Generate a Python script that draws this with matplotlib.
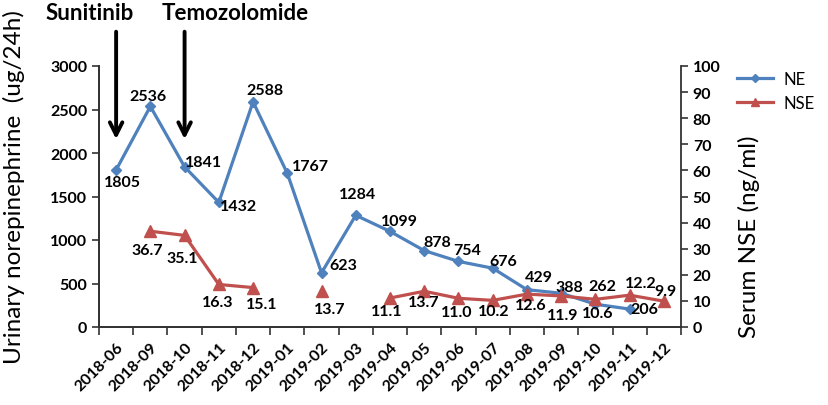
import numpy as np
import matplotlib
matplotlib.use("Agg")
import matplotlib.pyplot as plt

plt.rcParams['font.family'] = ['Lato', 'DejaVu Sans']

# Datos
meses = ['2018-06', '2018-09', '2018-10', '2018-11', '2018-12',
         '2019-01', '2019-02', '2019-03', '2019-04', '2019-05', '2019-06',
         '2019-07', '2019-08', '2019-09', '2019-10', '2019-11', '2019-12']
ne = [1805, 2536, 1841, 1432, 2588, 1767, 623, 1284, 1099, 878, 754,
      676, 429, 388, 262, 206, np.nan]
nse = [np.nan, 36.7, 35.1, 16.3, 15.1, np.nan, 13.7, np.nan, 11.1, 13.7,
       11.0, 10.2, 12.6, 11.9, 10.6, 12.2, 9.9]
ne_txt = ['1805', '2536', '1841', '1432', '2588', '1767', '623', '1284',
          '1099', '878', '754', '676', '429', '388', '262', '206', '']
nse_txt = ['', '36.7', '35.1', '16.3', '15.1', '', '13.7', '', '11.1',
           '13.7', '11.0', '10.2', '12.6', '11.9', '10.6', '12.2', '9.9']

# desplazamiento de etiquetas (pixeles: derecha, arriba)
ne_off = [(6, -12), (-2, 10), (19, 5), (20, -4), (12, 12), (23, 7),
          (22, 8), (2, 21), (9, 10), (13, 9), (9, 11), (11, 7),
          (12, 13), (8, 6), (7, 18), (15, 0), (0, 0)]
nse_off = [(0, 0), (-3, -19), (-2, -23), (-1, -18), (9, -16), (0, 0),
           (8, -18), (0, 0), (-3, -13), (-1, -11), (-2, -14), (1, -11),
           (4, -11), (2, -19), (2, -14), (11, 12), (2, 10)]

azul = '#4F81BD'
rojo = '#C0504D'
x = np.arange(len(meses))

fig = plt.figure(figsize=(8.29, 4.06), dpi=100)
ax = fig.add_axes([99 / 829, 1 - 328 / 406, 582 / 829, 261 / 406])
ax2 = ax.twinx()

l1, = ax.plot(x, ne, color=azul, lw=2.3, marker='D', ms=5.5, label='NE')
l2, = ax2.plot(x, nse, color=rojo, lw=2.3, marker='^', ms=8, label='NSE')

for i in range(len(x)):
    if ne_txt[i]:
        ax.annotate(ne_txt[i], (x[i], ne[i]), xytext=(ne_off[i][0] * 0.72, ne_off[i][1] * 0.72),
                    textcoords='offset points', ha='center', va='center',
                    fontsize=11.5, fontweight='bold')
    if nse_txt[i]:
        ax2.annotate(nse_txt[i], (x[i], nse[i]), xytext=(nse_off[i][0] * 0.72, nse_off[i][1] * 0.72),
                     textcoords='offset points', ha='center', va='center',
                     fontsize=11.5, fontweight='bold')

ax.set_xlim(-0.5, len(meses) - 0.5)
ax.set_ylim(0, 3000)
ax.set_yticks(range(0, 3001, 500))
ax2.set_ylim(0, 100)
ax2.set_yticks(range(0, 101, 10))

ax.set_xticks(x)
ax.set_xticklabels(meses, rotation=45, ha='right', rotation_mode='anchor',
                   fontsize=11.5, fontweight='bold')
ax.tick_params(axis='x', which='major', length=0, pad=9)
ax.set_xticks(np.arange(-0.5, len(meses)), minor=True)
ax.tick_params(axis='x', which='minor', length=6, width=1.2, color='#333333')

for a in (ax, ax2):
    a.spines['top'].set_visible(False)
    for s in a.spines.values():
        s.set_color('#333333')
        s.set_linewidth(1.3)
    a.tick_params(axis='y', length=5, width=1.2, color='#333333', labelsize=11.5)
    for t in a.get_yticklabels():
        t.set_fontweight('bold')
ax.spines['right'].set_visible(False)

ax.set_ylabel('Urinary norepinephrine  (ug/24h)', fontsize=17.5)
ax.yaxis.set_label_coords(-0.127, 0.54)
ax2.set_ylabel('Serum NSE (ng/ml)', fontsize=17.5)
ax2.yaxis.set_label_coords(1.098, 0.349)

ax.legend([l1, l2], ['NE', 'NSE'], frameon=False, fontsize=12,
          loc='upper left', bbox_to_anchor=(1.07, 1.04), handlelength=2.2,
          handletextpad=0.6, labelspacing=0.5, markerscale=0.7)

# flechas de tratamiento
tr = ax.get_xaxis_transform()
for xa in (0, 2):
    ax.annotate('', xy=(xa, 0.709), xytext=(xa, 1.142), xycoords=tr,
                arrowprops=dict(arrowstyle='->,head_length=0.9,head_width=0.45',
                                lw=2.8, color='black'), annotation_clip=False)
fig.text(46 / 829, 1 - 14 / 406, 'Sunitinib', ha='left', va='center',
         fontsize=16, fontweight='bold')
fig.text(162 / 829, 1 - 14 / 406, 'Temozolomide', ha='left', va='center',
         fontsize=16, fontweight='bold')

fig.savefig('out.png', dpi=100)
